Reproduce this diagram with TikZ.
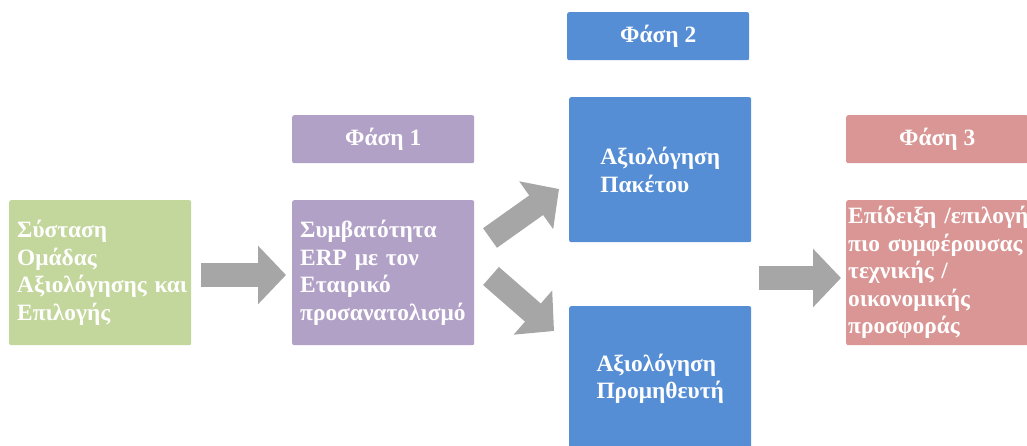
\documentclass[tikz,border=0pt]{standalone}
\usepackage{fontspec}
\setmainfont{Liberation Serif}
\usetikzlibrary{arrows.meta}
\definecolor{cgreen}{HTML}{C3D69B}
\definecolor{cpurple}{HTML}{B2A1C7}
\definecolor{cblue}{HTML}{558ED5}
\definecolor{cred}{HTML}{D99694}
\definecolor{cgray}{HTML}{A6A6A6}
\tikzset{
  box/.style={rounded corners=2pt, draw=none, anchor=north west, minimum width=182pt, minimum height=145pt, text=white, font=\fontsize{23.4}{27.5}\selectfont\bfseries, inner sep=0pt},
  phase/.style={rounded corners=2pt, draw=none, anchor=north west, minimum width=182pt, minimum height=48pt, text=white, font=\fontsize{23.4}{27.5}\selectfont\bfseries, inner sep=0pt},
  blockarrow/.style={draw=cgray, line width=24pt, -{Triangle[length=28pt,width=57pt]}, cgray},
}
\begin{document}
\begin{tikzpicture}[x=1pt,y=-1pt]
\useasboundingbox (0,0) rectangle (1027,446);
% boxes
\node[box, fill=cgreen, text width=166pt, align=left, inner xsep=8pt] (team) at (9,200) {Σύσταση\\Ομάδας\\Αξιολόγησης~και\\Επιλογής};
\node[phase, fill=cpurple] (ph1) at (292,115) {Φάση 1};
\node[box, fill=cpurple, text width=166pt, align=left, inner xsep=8pt] (compat) at (292,200) {Συμβατότητα\\ERP~με~τον\\Εταιρικό\\προσανατολισμό};
\node[phase, fill=cblue] (ph2) at (567,12) {Φάση 2};
\node[box, fill=cblue, align=left] (pkg) at (569,97) {Αξιολόγηση\\Πακέτου};
\node[box, fill=cblue, align=left] (vend) at (569,306) {Αξιολόγηση\\Προμηθευτή};
\node[phase, fill=cred] (ph3) at (846,115) {Φάση 3};
\node[box, fill=cred, text width=178pt, align=left, inner xsep=2pt] (offer) at (846,200) {Επίδειξη~/επιλογή\\πιο~συμφέρουσας\\τεχνικής~/\\οικονομικής\\προσφοράς};
% arrow ends
\coordinate (a1s) at (201,275);
\coordinate (a1e) at (286,275);
\coordinate (a2s) at (490,238);
\coordinate (a2e) at (559,189);
\coordinate (a3s) at (491,276);
\coordinate (a3e) at (554,331);
\coordinate (a4s) at (759,278);
\coordinate (a4e) at (841,278);
\draw[blockarrow] (a1s) -- (a1e);
\draw[blockarrow] (a2s) -- (a2e);
\draw[blockarrow] (a3s) -- (a3e);
\draw[blockarrow] (a4s) -- (a4e);
\end{tikzpicture}
\end{document}
